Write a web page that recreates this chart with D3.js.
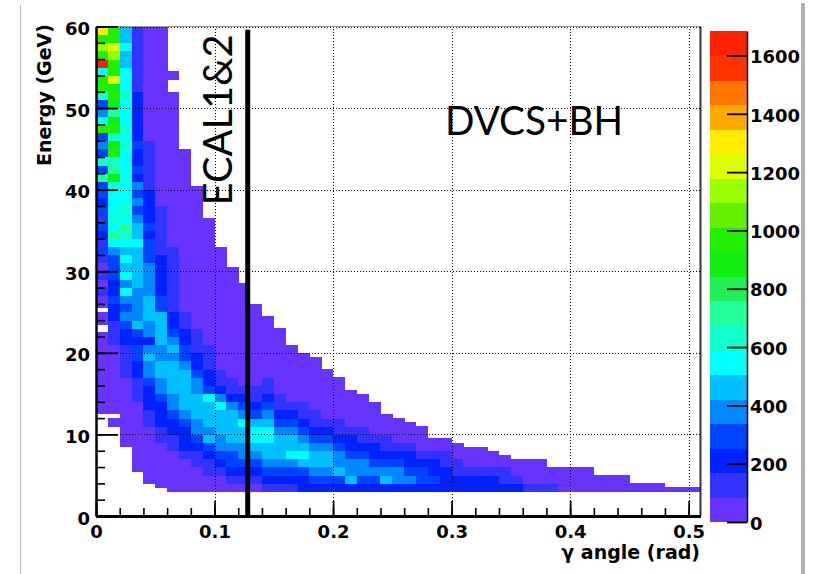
<!DOCTYPE html>
<meta charset="utf-8">
<style>
body { margin: 0; background: #fff; }
text { font-family: "DejaVu Sans", sans-serif; font-weight: bold; fill: #000; }
text.note { font-family: Lato, "Open Sans", sans-serif; font-weight: normal; }
.grid line { stroke: #000; stroke-width: 1; stroke-dasharray: 1,2; }
</style>
<svg width="814" height="574"></svg>
<script src="https://d3js.org/d3.v7.min.js"></script>
<script>

// photon energy vs angle, 2D histogram (COLZ), bins 0.01 rad x 1 GeV from 3 GeV up
var binW = 0.01, binH = 1, eStart = 3;

// colour level per energy bin, bottom up ('1'..'9','a'..'k' = level 1..20, '.' = empty)
var colLevels = [
  "........." + "111111111111111212" + "12423424344948454c7548cc7kcecg",
  "........" + "1111111111222334334" + "44579787778b98cb8cb9bcbfccefcc",
  "....." + "1111111112222334545757" + "676789787777777878777877766766",
  ".." + "1111111112223344346555566" + "666766545453433433333322222222",
  "." + "11111112233345565355666555" + "544434333322222211111111111111",
  "111111223334556655666644333" + "332222221111111111111111111111",
  "111112233455666656543322222" + "2221111111111111111111111",
  "111123334566666544332211111" + "111111111111111",
  "11122345566655433222" + "111111111111111111",
  "112234656667433222" + "1111111111111111",
  "112345566675322" + "111111111111111",
  "12344566665322" + "11111111111111",
  "1234556675432" + "1111111111111",
  "1234567764322" + "1111111111",
  "23456677654322" + "11111111",
  "234566654322" + "11111111",
  "23457665432" + "1111111",
  "33467654322" + "111111",
  "3456654322" + "1111111",
  "345665432" + "111111",
  "346554322" + "11111",
  "36554332" + "11111",
  "34554322" + "1111",
  "3454332" + "1111",
  "3654322" + "111",
  "355432" + "111",
  "354332" + "111",
  "34432" + "111",
  "3433211", "3332211", "332211", "332111", "332111", "33211", "32211",
  "3211", "2111", "2111", "211", "111", "111", "111",
  "11", "11", "11", "1", "1", "1", "1", "1", "1"
];

// lower / upper energy edge of each angle column (GeV)
var colBottom = [12.5, 11, 8.5, 5.5, 4, 3.5, 3, 3, 3, 3, 3, 3, 3, 3, 3, 3, 3, 3, 3, 3,
  3, 3, 3, 3, 3, 3, 3, 3, 3, 3, 3, 3, 3, 3, 3, 3, 3, 3, 3, 3, 3, 3, 3, 3, 3, 3, 3, 3, 3, 3, 3];
var colTop = [60, 60, 60, 60, 60, 60, 54.5, 45, 40.5, 36.5, 33, 30.5, 28.5, 26, 24.5, 23, 21, 20, 19.5, 18,
  17, 15.5, 15, 14, 12.5, 12, 11.5, 11, 9.5, 9.5, 9, 8.5, 8.5, 8, 7.5, 7, 7, 7, 6, 6,
  6, 6, 5, 5, 5, 4, 4, 4, 3.5, 3.5, 3.5];

// empty bins inside a column: [column, from GeV, to GeV]
var gaps = [[0, 25, 25.5], [0, 22.5, 23.5], [1, 12, 12.5], [6, 52, 53.5]];

var zMax = 1684, nLevels = 20;
var palette = ["#6633ff", "#3333ff", "#0022ff", "#0044ff", "#0088ff", "#00c0ff", "#00ffff",
  "#11ffcc", "#22ff99", "#22ee55", "#11ee11", "#22ee00", "#66ee00", "#99ff00", "#ddff00",
  "#ffee00", "#ffaa00", "#ff7700", "#ff3300", "#ff2200"];

var xTicks = [0, 0.1, 0.2, 0.3, 0.4, 0.5];
var yTicks = [0, 10, 20, 30, 40, 50, 60];
var zTicks = [0, 200, 400, 600, 800, 1000, 1200, 1400, 1600];

var ecalAngle = 0.128, ecalTopE = 59.6;


var svg = d3.select("svg"),
    width = +svg.attr("width"),
    height = +svg.attr("height");

var x = d3.scaleLinear().domain([0, 0.51]).range([96, 700.5]);
var y = d3.scaleLinear().domain([0, 60]).range([516, 26.5]);
var color = d3.scaleQuantize().domain([0, zMax]).range(palette);
var zy = d3.scaleLinear().domain([0, zMax]).range([522, 31]);

// slide borders
svg.append("line").attr("x1", 20.5).attr("x2", 20.5).attr("y1", 5).attr("y2", height)
    .attr("stroke", "#bbb").attr("stroke-width", 1);
svg.append("line").attr("x1", 803).attr("x2", 803).attr("y1", 3).attr("y2", height)
    .attr("stroke", "#b0b0b0").attr("stroke-width", 4);

// cells
var cells = [];
colLevels.forEach(function(s, c) {
  for (var i = 0; i < s.length; i++) {
    if (s[i] === ".") continue;
    var lo = Math.max(eStart + i * binH, colBottom[c]);
    var hi = Math.min(eStart + (i + 1) * binH, colTop[c]);
    var pieces = [[lo, hi]];
    gaps.filter(function(g) { return g[0] === c; }).forEach(function(g) {
      pieces = pieces.flatMap(function(p) {
        if (g[2] <= p[0] || g[1] >= p[1]) return [p];
        var out = [];
        if (g[1] > p[0]) out.push([p[0], g[1]]);
        if (g[2] < p[1]) out.push([g[2], p[1]]);
        return out;
      });
    });
    var count = (parseInt(s[i], 36) - 0.5) * zMax / nLevels;
    pieces.forEach(function(p) {
      if (p[1] > p[0]) cells.push({a0: c * binW, a1: (c + 1) * binW, e0: p[0], e1: p[1], count: count});
    });
  }
});

svg.append("g")
    .attr("shape-rendering", "crispEdges")
  .selectAll("rect")
  .data(cells)
  .enter().append("rect")
    .attr("x", function(d) { return x(d.a0); })
    .attr("y", function(d) { return y(d.e1); })
    .attr("width", function(d) { return x(d.a1) - x(d.a0) + 0.4; })
    .attr("height", function(d) { return y(d.e0) - y(d.e1) + 0.4; })
    .attr("fill", function(d) { return color(d.count); });

// frame (top, right)
svg.append("line").attr("x1", x(0)).attr("x2", x(0.51)).attr("y1", y(60)).attr("y2", y(60))
    .attr("stroke", "#999").attr("stroke-width", 1);
svg.append("line").attr("x1", x(0.51)).attr("x2", x(0.51)).attr("y1", y(60)).attr("y2", y(0))
    .attr("stroke", "#333").attr("stroke-width", 2);

// grid, snapped to pixel centres so the dots stay black
function px(v) { return Math.round(v) + 0.5; }
var grid = svg.append("g").attr("class", "grid").attr("shape-rendering", "crispEdges");
grid.selectAll(".gx").data(xTicks.filter(function(d) { return d > 0; }))
  .enter().append("line")
    .attr("x1", function(d) { return px(x(d)); }).attr("x2", function(d) { return px(x(d)); })
    .attr("y1", y(0)).attr("y2", y(60));
grid.selectAll(".gy").data(yTicks.filter(function(d) { return d > 0; }))
  .enter().append("line")
    .attr("x1", x(0)).attr("x2", x(0.51))
    .attr("y1", function(d) { return px(y(d)); }).attr("y2", function(d) { return px(y(d)); });

// x axis
svg.append("g").attr("transform", "translate(0," + y(0) + ")")
    .call(d3.axisBottom(x).tickValues(x.ticks(25)).tickSize(-8).tickSizeOuter(0).tickFormat(""))
    .call(function(g) { g.select(".domain").remove(); g.selectAll("line").attr("stroke-width", 1.6); });
var xAxis = svg.append("g").attr("transform", "translate(0," + y(0) + ")")
    .call(d3.axisBottom(x).tickValues(xTicks).tickSize(-15).tickSizeOuter(0).tickPadding(9)
      .tickFormat(d3.format("~g")));
xAxis.select(".domain").attr("stroke-width", 3);
xAxis.selectAll("line").attr("stroke-width", 1.8);
xAxis.selectAll("text").attr("font-size", 18);

// y axis
svg.append("g").attr("transform", "translate(" + x(0) + ",0)")
    .call(d3.axisLeft(y).tickValues(y.ticks(30)).tickSize(-9).tickSizeOuter(0).tickFormat(""))
    .call(function(g) { g.select(".domain").remove(); g.selectAll("line").attr("stroke-width", 1.6); });
var yAxis = svg.append("g").attr("transform", "translate(" + x(0) + ",0)")
    .call(d3.axisLeft(y).tickValues(yTicks).tickSize(-22).tickSizeOuter(0).tickPadding(6)
      .tickFormat(d3.format("~g")));
yAxis.select(".domain").attr("stroke-width", 2.5);
yAxis.selectAll("line").attr("stroke-width", 1.8);
yAxis.selectAll("text").attr("font-size", 18).attr("dy", "0.45em");

// axis titles
svg.append("text")
    .attr("transform", "translate(51,24) rotate(-90)")
    .attr("text-anchor", "end")
    .attr("font-size", 19)
    .text("Energy (GeV)");
svg.append("text")
    .attr("x", 700).attr("y", 559)
    .attr("text-anchor", "end")
    .attr("font-size", 19)
    .text("γ angle (rad)");

// palette
var levels = d3.range(nLevels);
svg.append("g")
    .attr("shape-rendering", "crispEdges")
  .selectAll("rect")
  .data(levels)
  .enter().append("rect")
    .attr("x", 710)
    .attr("width", 37)
    .attr("y", function(k) { return zy((k + 1) * zMax / nLevels); })
    .attr("height", function(k) { return zy(k * zMax / nLevels) - zy((k + 1) * zMax / nLevels) + 0.4; })
    .attr("fill", function(k) { return palette[k]; });
var zAxis = svg.append("g").attr("transform", "translate(747,0)")
    .call(d3.axisRight(zy).tickValues(zTicks).tickSize(-20).tickSizeOuter(0).tickPadding(3)
      .tickFormat(d3.format("d")));
zAxis.select(".domain").attr("stroke-width", 1.5);
zAxis.selectAll("line").attr("stroke-width", 1.8);
zAxis.selectAll("text").attr("font-size", 18).attr("dy", "0.4em");

// ECAL acceptance line and notes
svg.append("line")
    .attr("x1", x(ecalAngle)).attr("x2", x(ecalAngle))
    .attr("y1", y(0)).attr("y2", y(ecalTopE))
    .attr("stroke", "#000").attr("stroke-width", 5);
svg.append("text")
    .attr("class", "note")
    .attr("transform", "translate(232,205.5) rotate(-90)")
    .attr("font-size", 40)
    .attr("textLength", 171)
    .attr("lengthAdjust", "spacingAndGlyphs")
    .text("ECAL1&2");
svg.append("text")
    .attr("class", "note")
    .attr("x", 445).attr("y", 135)
    .attr("font-size", 41)
    .attr("textLength", 178)
    .attr("lengthAdjust", "spacingAndGlyphs")
    .text("DVCS+BH");

</script>
